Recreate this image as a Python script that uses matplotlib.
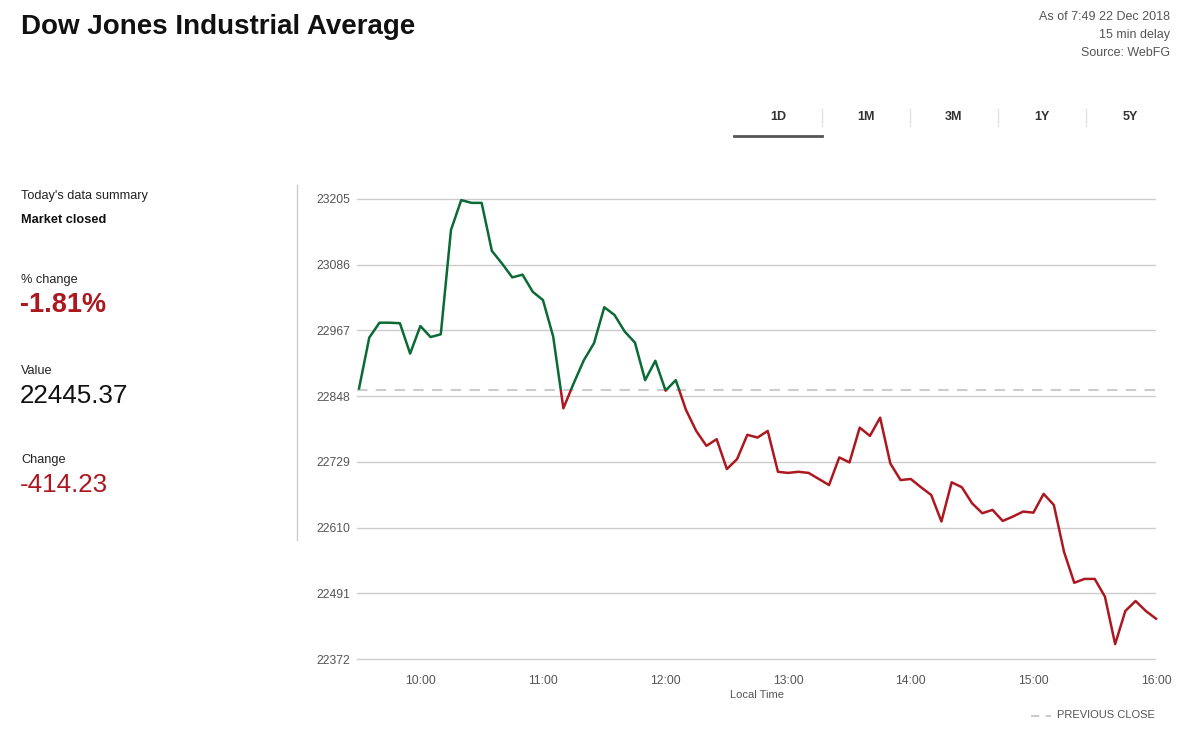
import numpy as np
import pandas as pd
import matplotlib
matplotlib.use("Agg")
import matplotlib.pyplot as plt
import matplotlib.dates as mdates
from matplotlib.patches import Rectangle

plt.rcParams['font.family'] = ['Liberation Sans', 'DejaVu Sans']

# 5 minute closes, 9:30 to 16:00
values = [22862, 22954, 22981, 22981, 22980, 22925, 22975, 22955, 22960, 23149,
          23203, 23198, 23198, 23111, 23088, 23063, 23068, 23037, 23022, 22956,
          22826, 22871, 22913, 22944, 23009, 22995, 22965, 22945, 22877, 22912,
          22858, 22877, 22823, 22785, 22758, 22770, 22716, 22734, 22778, 22773,
          22785, 22711, 22709, 22711, 22709, 22698, 22687, 22737, 22728, 22791,
          22776, 22809, 22726, 22696, 22698, 22683, 22669, 22621, 22692, 22683,
          22654, 22636, 22642, 22622, 22630, 22639, 22637, 22671, 22651, 22566,
          22510, 22517, 22517, 22485, 22399, 22459, 22477, 22459, 22445]
times = pd.date_range("2018-12-21 09:30", "2018-12-21 16:00", freq="5min")
prev_close = 22859.60
y_ticks = [22372, 22491, 22610, 22729, 22848, 22967, 23086, 23205]
tabs = ["1D", "1M", "3M", "1Y", "5Y"]
summary = [("% change", "-1.81%"), ("Value", "22445.37"), ("Change", "-414.23")]

GREEN = "#0b6b35"
RED = "#ad1820"
GREY = "#555555"

W, H = 1200, 736
fig = plt.figure(figsize=(W / 100, H / 100), dpi=100)


def fx(x):
    return x / W


def fy(y):
    return 1 - y / H


# header
fig.text(fx(21), fy(27), "Dow Jones Industrial Average", fontsize=20, fontweight="bold",
         color="#111111", va="center", ha="left")
for i, line in enumerate(["As of 7:49 22 Dec 2018", "15 min delay", "Source: WebFG"]):
    fig.text(fx(1170), fy(17 + 18 * i), line, fontsize=9, color=GREY, ha="right", va="center")

# range tabs
for i, t in enumerate(tabs):
    cx = 778 + 88 * i
    fig.text(fx(cx), fy(117), t, fontsize=9, fontweight="bold", color="#333333",
             ha="center", va="center")
    if i < len(tabs) - 1:
        fig.add_artist(plt.Line2D([fx(cx + 44)] * 2, [fy(109), fy(126)], color="#e3e3e3", lw=1))
fig.add_artist(plt.Line2D([fx(734), fx(822)], [fy(136), fy(136)], color="#555555", lw=2))

# summary panel
fig.text(fx(21), fy(196), "Today's data summary", fontsize=9.2, color="#222222", va="center")
fig.text(fx(21), fy(220), "Market closed", fontsize=9.2, fontweight="bold", color="#111111", va="center")
rows_y = [280, 371, 460]
for (label, val), ry in zip(summary, rows_y):
    fig.text(fx(21), fy(ry), label, fontsize=9.2, color="#222222", va="center")
    col = "#111111" if label == "Value" else RED
    bold = label == "% change"
    fig.text(fx(20), fy(ry + 25), val, fontsize=19.5 if bold else 18.7, color=col,
             fontweight="bold" if bold else "normal", va="center")
fig.add_artist(plt.Line2D([fx(297)] * 2, [fy(185), fy(540)], color="#cccccc", lw=1))

# chart (padded a few px so the edge gridlines are not clipped)
upp = (y_ticks[-1] - y_ticks[0]) / (659 - 199)
ax = fig.add_axes([fx(357), fy(663), fx(1156 - 357), (663 - 195) / H])
x0 = times[0] - pd.Timedelta(minutes=1)
ax.set_xlim(x0, times[-1])
ax.set_ylim(y_ticks[0] - 4 * upp, y_ticks[-1] + 4 * upp)

for s in ax.spines.values():
    s.set_visible(False)
ax.set_yticks(y_ticks)
ax.set_yticklabels([str(v) for v in y_ticks])
ax.yaxis.grid(True, color="#cccccc", lw=1)
ax.set_axisbelow(True)
ax.tick_params(axis="y", length=0, pad=5, labelsize=8.7, labelcolor=GREY)

hour_ticks = pd.date_range("2018-12-21 10:00", "2018-12-21 16:00", freq="1h")
ax.set_xticks(hour_ticks)
ax.xaxis.set_major_formatter(mdates.DateFormatter("%H:%M"))
ax.tick_params(axis="x", length=0, pad=9, labelsize=8.7, labelcolor=GREY)
ax.set_xlabel("Local Time", fontsize=8, color=GREY, labelpad=2)

ax.axhline(prev_close, color="#cccccc", lw=1.5, dashes=(5, 4))

green_line, = ax.plot(times, values, color=GREEN, lw=1.8)
red_line, = ax.plot(times, values, color=RED, lw=1.8)
xs = mdates.date2num([x0 - pd.Timedelta(hours=1), times[-1] + pd.Timedelta(hours=1)])
above = Rectangle((xs[0], prev_close), xs[1] - xs[0], 1000, transform=ax.transData)
below = Rectangle((xs[0], prev_close - 1000), xs[1] - xs[0], 1000, transform=ax.transData)
green_line.set_clip_path(above)
red_line.set_clip_path(below)

# legend
fig.add_artist(plt.Line2D([fx(1031), fx(1051)], [fy(716), fy(716)], color="#cccccc", lw=1.5,
                          dashes=(4, 3)))
fig.text(fx(1155), fy(715), "PREVIOUS CLOSE", fontsize=8, color=GREY, ha="right", va="center")

fig.savefig("out.png", dpi=100, facecolor="white")
